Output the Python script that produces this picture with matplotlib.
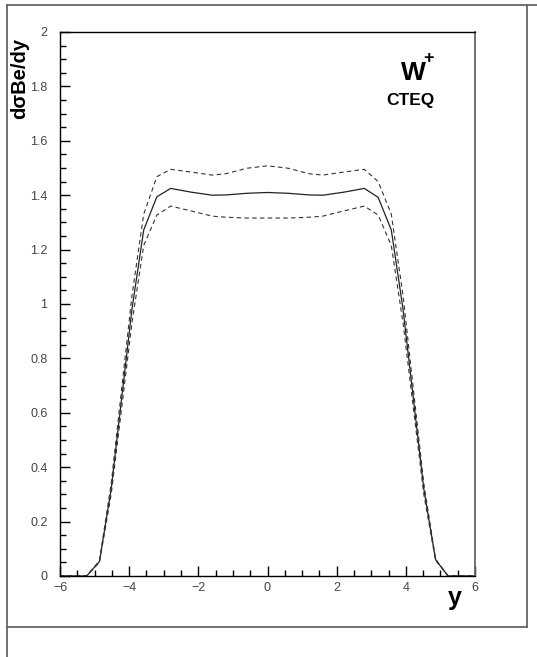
import numpy as np
import matplotlib
matplotlib.use('Agg')
import matplotlib.pyplot as plt
from matplotlib.lines import Line2D
from matplotlib.ticker import MultipleLocator

plt.rcParams['font.family'] = ['Liberation Sans', 'DejaVu Sans']

# rapidity grid and W+ cross-section (central value with upper/lower error band)
y_rap = [-6.0, -5.5, -5.23, -4.86, -4.52, -3.92, -3.58, -3.2, -2.8, -2.2, -1.6, -1.2, -0.6, 0.0,
         0.6, 1.2, 1.6, 2.2, 2.8, 3.2, 3.58, 3.92, 4.52, 4.86, 5.22, 5.5, 6.0]
central = [0.0, 0.0, 0.0, 0.053, 0.32, 0.98, 1.272, 1.394, 1.425, 1.411, 1.400, 1.401, 1.407, 1.410,
           1.407, 1.401, 1.400, 1.411, 1.425, 1.392, 1.272, 0.98, 0.32, 0.06, 0.0, 0.0, 0.0]
upper = [0.0, 0.0, 0.0, 0.056, 0.34, 1.03, 1.33, 1.468, 1.495, 1.485, 1.474, 1.479, 1.499, 1.508,
         1.499, 1.479, 1.474, 1.485, 1.495, 1.45, 1.33, 1.03, 0.34, 0.062, 0.0, 0.0, 0.0]
lower = [0.0, 0.0, 0.0, 0.05, 0.30, 0.93, 1.215, 1.327, 1.36, 1.342, 1.323, 1.319, 1.316, 1.316,
         1.316, 1.319, 1.323, 1.342, 1.36, 1.327, 1.215, 0.93, 0.30, 0.058, 0.0, 0.0, 0.0]

W, H = 537, 657
fig = plt.figure(figsize=(W / 100, H / 100), dpi=100)
ax = fig.add_axes([60 / W, 1 - 576 / H, (475 - 60) / W, (576 - 32) / H])

ax.plot(y_rap, central, color='#222222', lw=0.9)
ax.plot(y_rap, upper, color='#333333', lw=0.8, ls=(0, (4, 3)))
ax.plot(y_rap, lower, color='#333333', lw=0.8, ls=(0, (4, 3)))

ax.set_xlim(-6, 6)
ax.set_ylim(0, 2)
ax.xaxis.set_major_locator(MultipleLocator(2))
ax.xaxis.set_minor_locator(MultipleLocator(0.5))
ax.yaxis.set_major_locator(MultipleLocator(0.2))
ax.yaxis.set_minor_locator(MultipleLocator(0.05))
ax.yaxis.set_major_formatter(plt.FuncFormatter(lambda v, p: '%g' % round(v, 2)))
ax.xaxis.set_major_formatter(plt.FuncFormatter(lambda v, p: ('\u2212%g' % -v) if v < 0 else '%g' % v))
ax.tick_params(which='both', direction='in', top=False, right=False, colors='black',
               labelcolor='#444444', labelsize=9, width=1.0)
ax.tick_params(which='major', length=7)
ax.tick_params(which='minor', length=4)
ax.tick_params(axis='y', pad=9)
ax.tick_params(axis='x', pad=4)
for s in ax.spines.values():
    s.set_linewidth(1.0)
ax.spines['right'].set_color('#666666')
ax.spines['right'].set_linewidth(1.3)

fig.text(20 / W, 1 - 78 / H, 'd\u03c3Be/dy', rotation=90, ha='center', va='center',
         fontsize=14.5, fontweight='bold')
fig.text(455 / W, 1 - 598 / H, 'y', ha='center', va='center', fontsize=18, fontweight='bold')
fig.text(413 / W, 1 - 73 / H, 'W', ha='center', va='center', fontsize=19, fontweight='bold')
fig.text(429 / W, 1 - 59 / H, '+', ha='center', va='center', fontsize=13, fontweight='bold')
fig.text(410 / W, 1 - 100 / H, 'CTEQ', ha='center', va='center', fontsize=12.5, fontweight='bold')

# page frame around the plot
frame = dict(color='#666666', lw=1.3)
fig.add_artist(Line2D([7 / W, 7 / W], [0, 1 - 5 / H], transform=fig.transFigure, **frame))
fig.add_artist(Line2D([7 / W, 1], [1 - 5 / H, 1 - 5 / H], transform=fig.transFigure, **frame))
fig.add_artist(Line2D([527 / W, 527 / W], [1 - 5 / H, 1 - 627 / H], transform=fig.transFigure, **frame))
fig.add_artist(Line2D([7 / W, 527 / W], [1 - 627 / H, 1 - 627 / H], transform=fig.transFigure, **frame))

fig.savefig('out.png', dpi=100)
